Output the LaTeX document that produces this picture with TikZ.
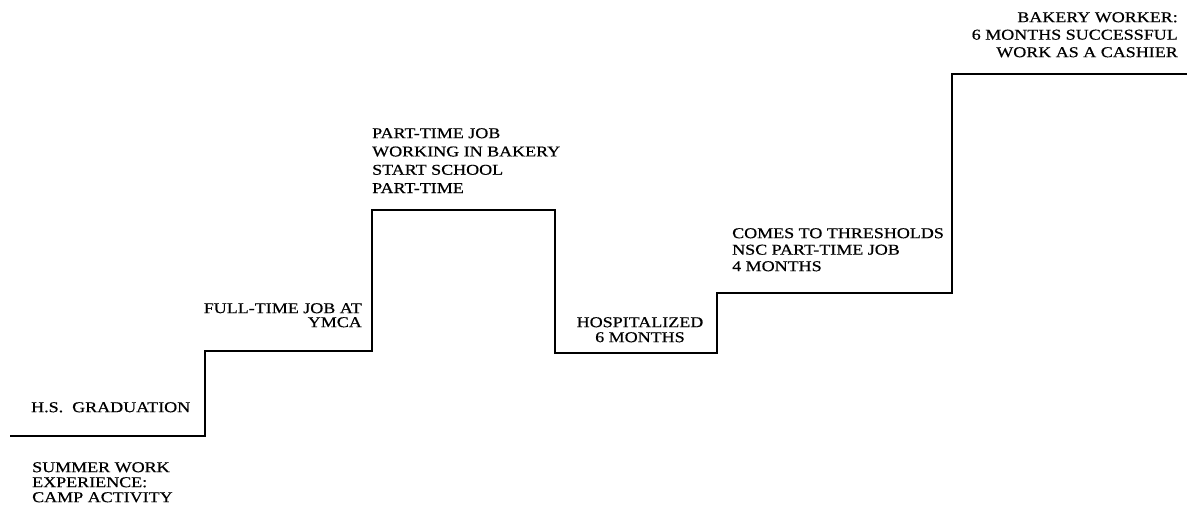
\documentclass[tikz,border=0pt]{standalone}
\usepackage{fontspec}
\setmainfont{Liberation Serif}[FakeStretch=1.2,FakeBold=0.6]
\begin{document}
\begin{tikzpicture}[x=1pt,y=-1pt,
  lbl/.style={inner sep=0pt,font=\fontsize{15}{15}\selectfont},
  stair/.style={line width=2.2pt,line join=miter}]
\useasboundingbox (0,0) rectangle (1187,512);
\draw[stair] (10,436) -- (205,436) -- (205,351) -- (372,351) -- (372,210)
  -- (555,210) -- (555,353) -- (717,353) -- (717,293) -- (952,293)
  -- (952,74) -- (1187,74);
\node[lbl,anchor=north west] (grad) at (31,402) {H.S.\ \ GRADUATION};
\node[lbl,anchor=north west,align=left] (summer) at (32,462) {SUMMER WORK\\EXPERIENCE:\\CAMP ACTIVITY};
\node[lbl,anchor=north east,align=right,font=\fontsize{15}{14}\selectfont] (ymca) at (362,303) {FULL-TIME JOB AT\\YMCA};
\node[lbl,anchor=north west,align=left,font=\fontsize{15}{18.3}\selectfont] (bakery) at (372,128) {PART-TIME JOB\\WORKING IN BAKERY\\START SCHOOL\\PART-TIME};
\node[lbl,anchor=north,align=center] (hosp) at (640,317) {HOSPITALIZED\\6 MONTHS};
\node[lbl,anchor=north west,align=left,font=\fontsize{15}{16.5}\selectfont] (thresh) at (732,228) {COMES TO THRESHOLDS\\NSC PART-TIME JOB\\4 MONTHS};
\node[lbl,anchor=north east,align=right,font=\fontsize{15}{17.5}\selectfont] (worker) at (1178,12) {BAKERY WORKER:\\6 MONTHS SUCCESSFUL\\WORK AS A CASHIER};
\end{tikzpicture}
\end{document}
